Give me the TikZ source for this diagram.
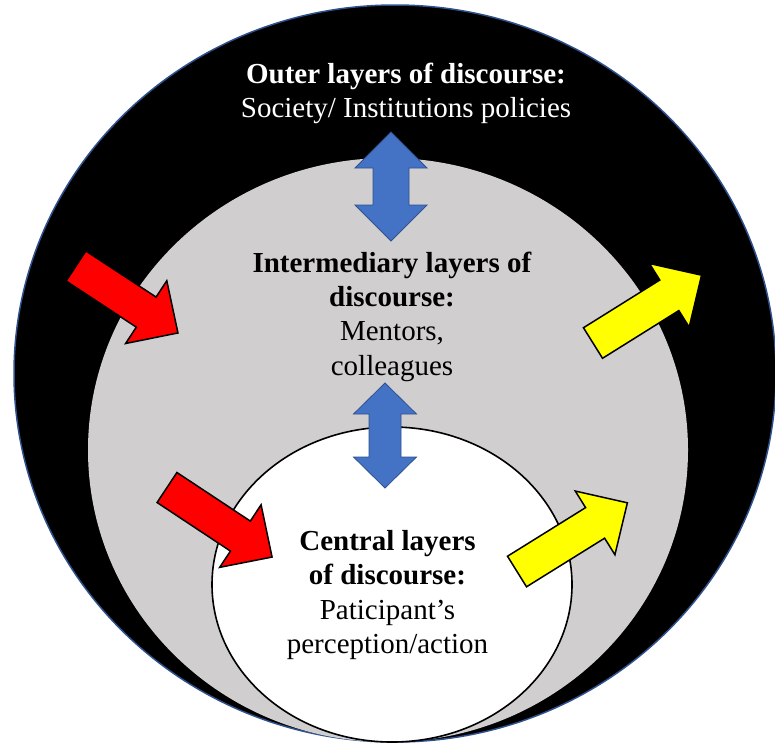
\documentclass[tikz,border=0pt]{standalone}
\usepackage{fontspec}
\setmainfont{Liberation Serif}
\definecolor{ringblack}{HTML}{000000}
\definecolor{ringedge}{HTML}{2F528F}
\definecolor{midgrey}{HTML}{D0CECE}
\definecolor{arrowblue}{HTML}{4472C4}
\definecolor{arrowblueedge}{HTML}{2F528F}
\definecolor{arrowred}{HTML}{FF0000}
\definecolor{arrowyellow}{HTML}{FFFF00}
\tikzset{
  labeltext/.style={align=center, inner sep=0pt, font=\fontsize{29}{34.3}\selectfont},
  % straight block arrow pointing along local +x, #1 = total length
  pics/blockarrow/.style={code={
    \path[pic actions] (0,-18) -- ({#1-38},-18) -- ({#1-38},-37.5) -- (#1,0)
      -- ({#1-38},37.5) -- ({#1-38},18) -- (0,18) -- cycle;
  }},
  % vertical two-headed arrow: length, head half-width, shaft half-width, head length
  pics/twoway/.style n args={4}{code={
    \path[pic actions] (0,0) -- (#2,#4) -- (#3,#4) -- (#3,{#1-#4}) -- (#2,{#1-#4})
      -- (0,#1) -- (-#2,{#1-#4}) -- (-#3,{#1-#4}) -- (-#3,#4) -- (-#2,#4) -- cycle;
  }},
  inflow/.style={fill=arrowred, draw=black, line width=1.5pt, line join=miter},
  outflow/.style={fill=arrowyellow, draw=black, line width=1.5pt, line join=miter},
  linkarrow/.style={fill=arrowblue, draw=arrowblueedge, line width=0.8pt},
}
\begin{document}
\begin{tikzpicture}[x=1pt, y=-1pt]
  \useasboundingbox (0,0) rectangle (775,745);
  \clip (0,0) rectangle (775,745);

  % the three nested layers
  \fill[ringblack] (395,373.5) ellipse [x radius=381, y radius=368.5];
  \draw[ringedge, line width=1.5pt] (395,373.5) ellipse [x radius=381, y radius=368.5];
  \fill[midgrey] (388,450) ellipse [x radius=300, y radius=292];
  \draw[fill=white, draw=black, line width=1.6pt] (392,584.5) ellipse [x radius=180, y radius=157.5];

  % two-way links between neighbouring layers
  \pic[linkarrow] (linkup) at (391,132) {twoway={109}{36}{18}{36}};
  \pic[linkarrow] (linkdown) at (385,383) {twoway={105}{31.5}{16}{31}};

  % influence arrows
  \pic[inflow, rotate=-33.3] (inouter) at (76,266) {blockarrow=122};
  \pic[inflow, rotate=-33.5] (ininner) at (167,487.5) {blockarrow=126};
  \pic[outflow, rotate=32] (outouter) at (593,343) {blockarrow=128};
  \pic[outflow, rotate=31.9] (outinner) at (517,571.5) {blockarrow=130};

  % layer labels
  \node[labeltext, text=white] (outer) at (406,93.4)
    {\textbf{Outer layers of discourse:}\\Society/ Institutions policies};
  \node[labeltext] (middle) at (392,316.6)
    {\textbf{Intermediary layers of}\\\textbf{discourse:}\\Mentors,\\colleagues};
  \node[labeltext] (central) at (387.5,594.9)
    {\textbf{Central layers}\\\textbf{of discourse:}\\Paticipant’s\\perception/action};
\end{tikzpicture}
\end{document}
